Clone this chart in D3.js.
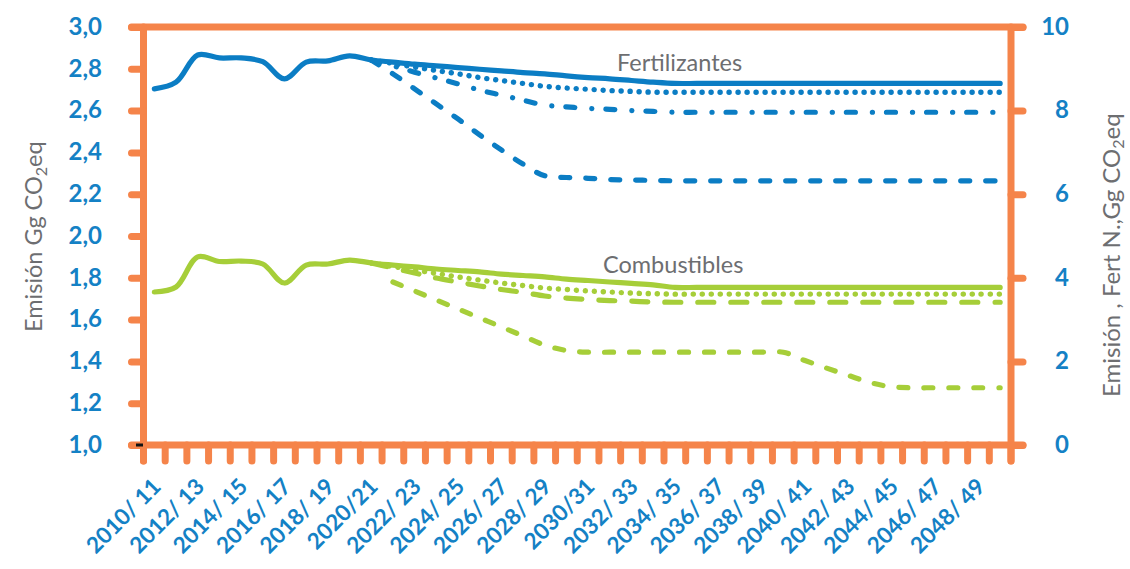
<!DOCTYPE html>
<html>
<head>
<meta charset="utf-8">
<script src="https://cdn.jsdelivr.net/npm/d3@7"></script>
<style>
  html, body { margin: 0; padding: 0; background: #ffffff; }
  svg { display: block; }
</style>
</head>
<body>
<svg id="chart" width="1130" height="569"></svg>
<script>
// ---------------- DATA ----------------
const categories = [
  "2010/11","2011/12","2012/13","2013/14","2014/15","2015/16","2016/17","2017/18","2018/19","2019/20",
  "2020/21","2021/22","2022/23","2023/24","2024/25","2025/26","2026/27","2027/28","2028/29","2029/30",
  "2030/31","2031/32","2032/33","2033/34","2034/35","2035/36","2036/37","2037/38","2038/39","2039/40",
  "2040/41","2041/42","2042/43","2043/44","2044/45","2045/46","2046/47","2047/48","2048/49","2049/50"
];
// displayed x tick labels (every second category)
const xTickLabels = [
  "2010/ 11","2012/ 13","2014/ 15","2016/ 17","2018/ 19","2020/21","2022/ 23","2024/ 25","2026/ 27","2028/ 29",
  "2030/31","2032/ 33","2034/ 35","2036/ 37","2038/ 39","2040/ 41","2042/ 43","2044/ 45","2046/ 47","2048/ 49"
];
const leftTicks = [1.0, 1.2, 1.4, 1.6, 1.8, 2.0, 2.2, 2.4, 2.6, 2.8, 3.0];
const rightTicks = [0, 2, 4, 6, 8, 10];

const N = null;
// Fertilizantes (right axis, Gg CO2eq)
const fertSolid = [8.52, 8.68, 9.33, 9.26, 9.26, 9.17, 8.76, 9.16, 9.19, 9.31,
  9.21, 9.16, 9.11, 9.07, 9.03, 8.99, 8.95, 8.91, 8.88, 8.83,
  8.79, 8.76, 8.72, 8.68, 8.65, 8.65, 8.65, 8.65, 8.65, 8.65,
  8.65, 8.65, 8.65, 8.65, 8.65, 8.65, 8.65, 8.65, 8.65, 8.65];
const fertDotted = [N, N, N, N, N, N, N, N, N, N,
  9.21, 9.13, 9.04, 8.96, 8.88, 8.79, 8.72, 8.65, 8.58, 8.54,
  8.51, 8.48, 8.46, 8.44, 8.44, 8.44, 8.44, 8.44, 8.44, 8.44,
  8.44, 8.44, 8.44, 8.44, 8.44, 8.44, 8.44, 8.44, 8.44, 8.44];
const fertDashDot = [N, N, N, N, N, N, N, N, N, N,
  9.21, 9.07, 8.92, 8.78, 8.64, 8.49, 8.37, 8.25, 8.13, 8.09,
  8.05, 8.03, 8.00, 7.98, 7.96, 7.96, 7.96, 7.96, 7.96, 7.96,
  7.96, 7.96, 7.96, 7.96, 7.96, 7.96, 7.96, 7.96, 7.96, 7.96];
const fertDashed = [N, N, N, N, N, N, N, N, N, N,
  9.21, 8.88, 8.52, 8.16, 7.80, 7.42, 7.06, 6.72, 6.44, 6.40,
  6.38, 6.35, 6.34, 6.33, 6.32, 6.32, 6.32, 6.32, 6.32, 6.32,
  6.32, 6.32, 6.32, 6.32, 6.32, 6.32, 6.32, 6.32, 6.32, 6.32];

// Combustibles (left axis, Gg CO2eq)
const combSolid = [1.732, 1.756, 1.900, 1.878, 1.880, 1.866, 1.775, 1.861, 1.866, 1.885,
  1.871, 1.861, 1.852, 1.842, 1.835, 1.828, 1.818, 1.811, 1.804, 1.794,
  1.787, 1.780, 1.773, 1.766, 1.754, 1.754, 1.754, 1.754, 1.754, 1.754,
  1.754, 1.754, 1.754, 1.754, 1.754, 1.754, 1.754, 1.754, 1.754, 1.754];
const combDotted = [N, N, N, N, N, N, N, N, N, N,
  1.871, 1.854, 1.837, 1.821, 1.804, 1.789, 1.775, 1.763, 1.751, 1.744,
  1.737, 1.732, 1.727, 1.724, 1.722, 1.722, 1.722, 1.722, 1.722, 1.722,
  1.722, 1.722, 1.722, 1.722, 1.722, 1.722, 1.722, 1.722, 1.722, 1.722];
const combDashed = [N, N, N, N, N, N, N, N, N, N,
  1.871, 1.847, 1.823, 1.799, 1.780, 1.761, 1.744, 1.730, 1.713, 1.703,
  1.696, 1.691, 1.688, 1.684, 1.683, 1.683, 1.683, 1.683, 1.683, 1.683,
  1.683, 1.683, 1.683, 1.683, 1.683, 1.683, 1.683, 1.683, 1.683, 1.683];
const combLowDashed = [N, N, N, N, N, N, N, N, N, N,
  N, 1.780, 1.737, 1.694, 1.651, 1.608, 1.565, 1.522, 1.478, 1.452,
  1.444, 1.444, 1.444, 1.444, 1.444, 1.444, 1.444, 1.444, 1.444, 1.444,
  1.404, 1.368, 1.333, 1.299, 1.278, 1.274, 1.274, 1.274, 1.274, 1.274];

// ---------------- STYLE ----------------
const ORANGE = "#F5844A";
const BLUE = "#0B7DC4";
const LABELBLUE = "#1481C5";
const GREEN = "#A6CE39";
const GREY = "#6D6E71";
const FONT = "Lato, 'Open Sans', sans-serif";

(function () {
const svg = d3.select("#chart");

const pLeft = 143.5, pRight = 1011, pTop = 27, pBottom = 445;
const x = d3.scaleBand().domain(categories).range([pLeft, pRight]).padding(0);
const yL = d3.scaleLinear().domain([1, 3]).range([pBottom, pTop]);
const yR = d3.scaleLinear().domain([0, 10]).range([pBottom, pTop]);

const loc = d3.formatLocale({decimal: ",", thousands: ".", grouping: [3], currency: ["", ""]});
const fmt1 = loc.format(".1f");

// ---------- frame & ticks ----------
const frame = svg.append("g")
  .attr("stroke", ORANGE).attr("stroke-width", 7).attr("stroke-linecap", "round").attr("fill", "none");

const boundaries = categories.map(c => x(c)).concat([x.range()[1]]);
frame.selectAll("line.xt").data(boundaries).join("line").attr("class", "xt")
  .attr("x1", d => d).attr("x2", d => d).attr("y1", pBottom).attr("y2", pBottom + 16);

const axL = d3.axisLeft(yL).tickValues(leftTicks).tickFormat(fmt1).tickSize(12).tickPadding(29.5);
const gL = svg.append("g").attr("transform", `translate(${pLeft},0)`).call(axL);
gL.select(".domain").remove();
gL.selectAll(".tick line").attr("stroke", ORANGE).attr("stroke-width", 7).attr("stroke-linecap", "round");
gL.selectAll(".tick text").attr("fill", LABELBLUE).attr("font-family", FONT).attr("font-weight", "bold")
  .attr("font-size", 24).attr("dy", "0.3em");

const axR = d3.axisRight(yR).tickValues(rightTicks).tickFormat(d3.format("d")).tickSize(12);
const gR = svg.append("g").attr("transform", `translate(${pRight},0)`).call(axR);
gR.select(".domain").remove();
gR.selectAll(".tick line").attr("stroke", ORANGE).attr("stroke-width", 7).attr("stroke-linecap", "round");
gR.selectAll(".tick text").attr("fill", LABELBLUE).attr("font-family", FONT).attr("font-weight", "bold")
  .attr("font-size", 24).attr("dy", "0.3em").attr("text-anchor", "end").attr("x", 58);

frame.append("line").attr("x1", pLeft - 12).attr("x2", pRight + 12).attr("y1", pTop).attr("y2", pTop);
frame.append("line").attr("x1", pLeft - 12).attr("x2", pRight + 12).attr("y1", pBottom).attr("y2", pBottom);
frame.append("line").attr("x1", pLeft).attr("x2", pLeft).attr("y1", pTop).attr("y2", pBottom + 16);
frame.append("line").attr("x1", pRight).attr("x2", pRight).attr("y1", pTop).attr("y2", pBottom + 16);

svg.append("rect").attr("x", pLeft - 7.5).attr("y", pBottom - 1.5).attr("width", 7).attr("height", 3).attr("fill", "#111");

const labelCats = categories.filter((c, i) => i % 2 === 0);
svg.append("g").selectAll("text").data(labelCats).join("text")
  .attr("transform", (c) => `translate(${x(c) + x.bandwidth() / 2 + 8},${pBottom + 43}) rotate(-45)`)
  .attr("text-anchor", "end")
  .attr("fill", LABELBLUE).attr("font-family", FONT).attr("font-weight", "bold").attr("font-size", 22.5)
  .text((c, i) => xTickLabels[i]);

function drawSeries(values, yScale, color, dash, width) {
  const pts = values.map((v, i) => ({c: categories[i], v}));
  const line = d3.line()
    .defined(d => d.v !== null)
    .x(d => x(d.c) + x.bandwidth() / 2)
    .y(d => yScale(d.v))
    .curve(d3.curveCatmullRom.alpha(0.5));
  svg.append("path").datum(pts)
    .attr("d", line)
    .attr("fill", "none")
    .attr("stroke", color)
    .attr("stroke-width", width)
    .attr("stroke-linecap", "round")
    .attr("stroke-linejoin", "round")
    .attr("stroke-dasharray", dash);
}

drawSeries(fertDashed, yR, BLUE, "9,16", 5.2);
drawSeries(fertDashDot, yR, BLUE, "9,17,0.1,14", 5.2);
drawSeries(fertDotted, yR, BLUE, "0.1,8.9", 5.4);
drawSeries(fertSolid, yR, BLUE, null, 5.2);

drawSeries(combLowDashed, yL, GREEN, "9,16", 5.2);
drawSeries(combDashed, yL, GREEN, "16,17", 5.2);
drawSeries(combDotted, yL, GREEN, "0.1,8.9", 5.4);
drawSeries(combSolid, yL, GREEN, null, 5.2);

svg.append("text").attr("x", 617).attr("y", 70.5)
  .attr("fill", GREY).attr("font-family", FONT).attr("font-size", 23.5).text("Fertilizantes");
svg.append("text").attr("x", 603).attr("y", 273)
  .attr("fill", GREY).attr("font-family", FONT).attr("font-size", 23.5).text("Combustibles");

const tL = svg.append("text")
  .attr("transform", "translate(42,332) rotate(-90)")
  .attr("text-anchor", "start")
  .attr("fill", GREY).attr("font-family", FONT).attr("font-size", 23.5);
tL.append("tspan").text("Emisión Gg CO");
tL.append("tspan").attr("font-size", 16).attr("dy", 5).text("2");
tL.append("tspan").attr("dy", -5).text("eq");

const tR = svg.append("text")
  .attr("transform", "translate(1120,397) rotate(-90)")
  .attr("text-anchor", "start")
  .attr("fill", GREY).attr("font-family", FONT).attr("font-size", 24);
tR.append("tspan").text("Emisión , Fert N.,Gg CO");
tR.append("tspan").attr("font-size", 16).attr("dy", 4).text("2");
tR.append("tspan").attr("dy", -4).text("eq");
})();
</script>
</body>
</html>
